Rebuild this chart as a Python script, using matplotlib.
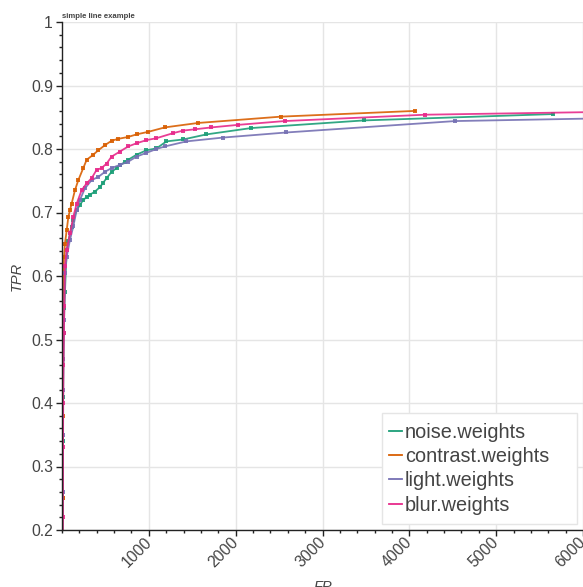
import matplotlib.pyplot as plt
from matplotlib.lines import Line2D
from matplotlib.patches import Rectangle
from matplotlib.ticker import MultipleLocator
from matplotlib.transforms import ScaledTranslation

# dados (FP, TPR)
noise_fp = [0, 9, 11, 13, 16, 20, 27, 34, 54, 73, 92, 111, 130, 169, 207, 245, 284, 322, 380, 437,
            475, 513, 571, 628, 667, 724, 762, 858, 973, 1088, 1203, 1395, 1663, 2180, 3477, 5655]
noise_tpr = [0.0, 0.25, 0.34, 0.41, 0.47, 0.51, 0.55, 0.575, 0.641, 0.655, 0.667, 0.677, 0.688, 0.704,
             0.712, 0.72, 0.724, 0.728, 0.733, 0.740, 0.747, 0.754, 0.764, 0.770, 0.775, 0.779, 0.783,
             0.791, 0.798, 0.801, 0.812, 0.815, 0.823, 0.833, 0.845, 0.855]

contrast_fp = [0, 8, 10, 12, 15, 23, 34, 54, 73, 92, 111, 149, 188, 245, 284, 360, 418, 494, 571,
               648, 762, 858, 992, 1184, 1567, 2525, 4069]
contrast_tpr = [0.0, 0.25, 0.38, 0.47, 0.55, 0.630, 0.651, 0.672, 0.693, 0.704, 0.714, 0.735, 0.751,
                0.770, 0.783, 0.791, 0.798, 0.806, 0.813, 0.816, 0.819, 0.823, 0.827, 0.834, 0.841,
                0.851, 0.860]

light_fp = [0, 9, 11, 13, 16, 22, 34, 54, 92, 130, 169, 207, 264, 341, 418, 494, 571, 667, 762, 858,
            973, 1088, 1184, 1433, 1854, 2582, 4529, 6500]
light_tpr = [0.0, 0.26, 0.35, 0.42, 0.47, 0.53, 0.604, 0.630, 0.657, 0.678, 0.704, 0.720, 0.738,
             0.751, 0.756, 0.764, 0.770, 0.775, 0.780, 0.788, 0.794, 0.800, 0.804, 0.812, 0.818,
             0.826, 0.844, 0.849]

blur_fp = [0, 10, 12, 14, 17, 22, 27, 34, 54, 92, 130, 169, 226, 284, 341, 398, 456, 513, 571, 667,
           762, 858, 973, 1088, 1280, 1395, 1529, 1720, 2026, 2563, 4180, 6500]
blur_tpr = [0.0, 0.22, 0.33, 0.40, 0.46, 0.51, 0.552, 0.615, 0.641, 0.667, 0.693, 0.714, 0.735,
            0.746, 0.754, 0.767, 0.770, 0.777, 0.788, 0.796, 0.804, 0.809, 0.814, 0.817, 0.825,
            0.829, 0.831, 0.834, 0.838, 0.844, 0.854, 0.859]

nomes = ["noise.weights", "contrast.weights", "light.weights", "blur.weights"]
cores = ["#1b9e77", "#d95f02", "#7570b3", "#e7298a"]
series = [(noise_fp, noise_tpr), (contrast_fp, contrast_tpr), (light_fp, light_tpr), (blur_fp, blur_tpr)]

plt.rcParams['font.family'] = ['Liberation Sans', 'DejaVu Sans']

fig = plt.figure(figsize=(5.83, 5.87), dpi=100)
ax = fig.add_axes([62 / 583, 57 / 587, 521 / 583, 508 / 587])

for (fp, tpr), cor in zip(series, cores):
    ax.plot(fp, tpr, color=cor, lw=1.3, alpha=0.9, marker='s', ms=2.4, mew=0)

ax.set_xlim(0, 6000)
ax.set_ylim(0.2, 1.0)
ax.xaxis.set_minor_locator(MultipleLocator(200))
ax.yaxis.set_minor_locator(MultipleLocator(0.02))
ax.set_yticks([0.2, 0.3, 0.4, 0.5, 0.6, 0.7, 0.8, 0.9, 1.0])
ax.set_yticklabels(["0.2", "0.3", "0.4", "0.5", "0.6", "0.7", "0.8", "0.9", "1"])
ax.set_xticks([1000, 2000, 3000, 4000, 5000, 6000])
ax.set_xticklabels(["1000", "2000", "3000", "4000", "5000", "6000"],
                   rotation=45, ha='right', va='top', rotation_mode='anchor')

ax.grid(True, which='major', color='#e5e5e5', lw=1)
ax.set_axisbelow(True)
for s in ['top', 'right']:
    ax.spines[s].set_visible(False)
for s in ['left', 'bottom']:
    ax.spines[s].set_color('#222222')
    ax.spines[s].set_linewidth(1)

ax.tick_params(which='major', direction='out', length=4.5, width=1, color='#222222',
               labelsize=11.3, labelcolor='#444444', pad=2)
ax.tick_params(which='minor', direction='out', length=2.5, width=1, color='#222222')
ax.tick_params(axis='x', pad=4)

# desloca os rotulos do eixo x (depois do tick_params)
desloc = ScaledTranslation(-5 / 100, 7 / 100, fig.dpi_scale_trans)
for lab in ax.get_xticklabels():
    lab.set_transform(lab.get_transform() + desloc)

ax.set_xlabel("FP", fontsize=10.5, style='italic', color='#444444', labelpad=7)
ax.set_ylabel("TPR", fontsize=10.5, style='italic', color='#444444', labelpad=5)
ax.set_title("simple line example", fontsize=5.6, fontweight='bold', color='#444444',
             loc='left', pad=3)

# moldura da legenda (mais larga que o texto, como no original)
ax.add_patch(Rectangle((0.614, 0.012), 0.374, 0.218, transform=ax.transAxes,
                       facecolor='white', edgecolor='#e5e5e5', lw=1, zorder=4))
handles = [Line2D([0], [0], color=c, lw=1.3) for c in cores]
leg = ax.legend(handles, nomes, loc='upper left', bbox_to_anchor=(0.614, 0.225),
                borderaxespad=0, fontsize=14.3, handlelength=0.65, handletextpad=0.15,
                labelspacing=0.27, frameon=False, borderpad=0.35)
leg.set_zorder(5)
for t in leg.get_texts():
    t.set_color('#444444')

fig.savefig("out.png", dpi=100)
